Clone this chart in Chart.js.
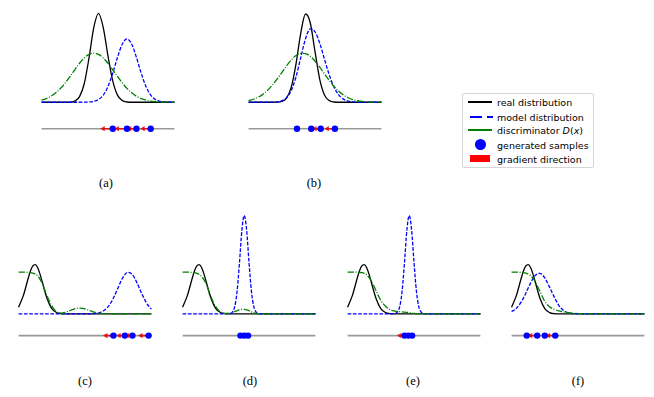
<!DOCTYPE html>
<html>
<head>
<meta charset="utf-8">
<script src="https://cdn.jsdelivr.net/npm/chart.js@4.4.1/dist/chart.umd.min.js"></script>
<style>
  body { margin: 0; background: #fff; width: 654px; height: 397px; overflow: hidden; position: relative; }
  canvas { position: absolute; }
  .lbl { position: absolute; font-family: "Liberation Serif", serif; font-size: 12.5px; color: #000; transform: translate(-50%, -50%); white-space: nowrap; }
  #legend { position: absolute; left: 462px; top: 93px; width: 130px; height: 73px; border: 1px solid #d6d6d6; border-radius: 2px;
            font-family: "DejaVu Sans", sans-serif; font-size: 9.5px; color: #000; }
  #legend .row { position: absolute; left: 34px; transform: translateY(-50%); white-space: nowrap; }
  #legend .mk { position: absolute; }
</style>
</head>
<body>
<div id="legend">
  <div class="mk" style="left:5px;top:7px;width:24px;height:2px;background:#000"></div>
  <div class="row" style="top:8px">real distribution</div>
  <div class="mk" style="left:7px;top:22px;width:12px;height:2px;background:#0000ff"></div>
  <div class="mk" style="left:24px;top:22px;width:6px;height:2px;background:#0000ff"></div>
  <div class="row" style="top:23px">model distribution</div>
  <div class="mk" style="left:5px;top:35px;width:24px;height:2px;background:#008000"></div>
  <div class="row" style="top:36px">discriminator <i>D</i>(<i>x</i>)</div>
  <div class="mk" style="left:12px;top:45px;width:11px;height:11px;border-radius:50%;background:#0000ff"></div>
  <div class="row" style="top:51px">generated samples</div>
  <div class="mk" style="left:7px;top:61px;width:20px;height:7px;background:#ff0000"></div>
  <div class="row" style="top:65px">gradient direction</div>
</div>
<script>
// x grid of the top panels (a), (b)
const gridTop = [-7,-6.5,-6,-5.5,-5,-4.5,-4,-3.5,-3,-2.5,-2,-1.5,-1,-0.5,0,0.5,1,1.5,2,2.5,3,3.5,4,4.5,5,5.5,6,6.5,7];
// x grid of the bottom panels (c)-(f), finer where the peaks are
const gridBottom = [-7,-6.5,-6,-5.75,-5.5,-5.25,-5,-4.75,-4.5,-4,-3.5,-3,-2.5,-2,-1.75,-1.5,-1.25,-1,-0.75,-0.5,-0.25,0,0.25,0.5,0.75,1,1.5,2,2.5,3,3.5,4,4.5,5,5.5,6,6.5,7];

// (a)
const realA  = [0,0,0,0,0,0,0.002,0.013,0.063,0.211,0.50,0.841,1.0,0.841,0.52,0.24,0.08,0.02,0.003,0,0,0,0,0,0,0,0,0,0];
const modelA = [0,0,0,0,0,0,0,0,0,0.001,0.003,0.010,0.031,0.081,0.178,0.327,0.504,0.654,0.713,0.654,0.504,0.327,0.178,0.081,0.031,0.010,0.003,0.001,0];
const discA  = [0.024,0.042,0.068,0.106,0.156,0.218,0.290,0.366,0.439,0.499,0.539,0.553,0.539,0.499,0.439,0.366,0.290,0.218,0.156,0.106,0.068,0.042,0.024,0.013,0.007,0.003,0.002,0.001,0];
const samplesA = [0.5, 2.0, 3.0, 4.5];
const gradFromA = [0.5, 2.0, 3.0, 4.5];
const gradToA = [-0.5, 1.0, 2.3, 3.7];

// (b)
const realB  = [0,0,0,0,0,0,0.001,0.009,0.047,0.170,0.433,0.779,0.994,0.895,0.571,0.258,0.082,0.019,0.003,0,0,0,0,0,0,0,0,0,0];
const modelB = [0,0,0,0,0,0.001,0.004,0.016,0.051,0.134,0.288,0.504,0.715,0.827,0.794,0.665,0.485,0.308,0.171,0.083,0.035,0.013,0.004,0.001,0,0,0,0,0];
const discB  = [0.019,0.034,0.056,0.089,0.134,0.192,0.260,0.335,0.410,0.477,0.526,0.551,0.548,0.518,0.465,0.396,0.320,0.246,0.180,0.124,0.082,0.051,0.030,0.017,0.009,0.005,0.002,0.001,0];
const samplesB = [-1.9, -0.4, 0.6, 2.1];
const gradFromB = [0.6, 2.1];
const gradToB = [0.0, 1.3];

// real distribution, same in (c)-(f)
const realBottom = [0.075,0.204,0.394,0.481,0.538,0.552,0.520,0.449,0.355,0.172,0.059,0.014,0.002,0,0,0,0,0,0,0,0,0,0,0,0,0,0,0,0,0,0,0,0,0,0,0,0,0];

// (c)
const modelC = [0,0,0,0,0,0,0,0,0,0,0,0,0,0,0,0,0,0,0,0,0,0,0,0,0,0.003,0.012,0.037,0.088,0.178,0.296,0.409,0.466,0.440,0.344,0.223,0.119,0.053];
const discC  = [0.468,0.468,0.466,0.464,0.458,0.447,0.428,0.39,0.34,0.20,0.09,0.022,0.008,0.02,0.03,0.04,0.05,0.058,0.063,0.064,0.061,0.055,0.047,0.037,0.027,0.018,0.006,0.001,0,0,0,0,0,0,0,0,0,0];
const samplesC = [3.0, 4.2, 5.0, 6.7];
const gradFromC = [3.0, 4.2, 5.0, 6.7];
const gradToC = [2.2, 3.6, 4.5, 5.9];

// (d)
const modelD = [0,0,0,0,0,0,0,0,0,0,0,0,0,0.003,0.020,0.083,0.259,0.580,0.941,1.106,0.941,0.580,0.259,0.083,0.020,0.003,0,0,0,0,0,0,0,0,0,0,0,0];
const discD  = [0.468,0.468,0.465,0.462,0.455,0.442,0.42,0.385,0.33,0.19,0.08,0.02,0.005,0.008,0.015,0.025,0.036,0.045,0.050,0.050,0.045,0.035,0.022,0.012,0.005,0.002,0,0,0,0,0,0,0,0,0,0,0,0];
const samplesD = [-0.9, -0.5, -0.1];
const gradFromD = [];
const gradToD = [];

// (e)
const modelE = [0,0,0,0,0,0,0,0,0,0,0,0,0,0.003,0.020,0.083,0.259,0.580,0.941,1.106,0.941,0.580,0.259,0.083,0.020,0.003,0,0,0,0,0,0,0,0,0,0,0,0];
const discE  = [0.468,0.468,0.467,0.465,0.462,0.455,0.44,0.41,0.37,0.26,0.15,0.085,0.045,0.03,0.026,0.023,0.021,0.018,0.016,0.014,0.01,0.006,0.003,0.001,0,0,0,0,0,0,0,0,0,0,0,0,0,0];
const samplesE = [-1.0, -0.6, -0.2];
const gradFromE = [-1.0];
const gradToE = [-1.5];

// (f)
const modelF = [0.025,0.062,0.131,0.178,0.231,0.289,0.345,0.395,0.432,0.455,0.403,0.300,0.188,0.090,0.060,0.035,0.020,0.010,0.005,0.002,0.001,0,0,0,0,0,0,0,0,0,0,0,0,0,0,0,0,0];
const discF  = [0.468,0.468,0.466,0.464,0.458,0.447,0.43,0.40,0.36,0.25,0.14,0.08,0.05,0.032,0.026,0.02,0.016,0.012,0.009,0.006,0.004,0.003,0.002,0.001,0,0,0,0,0,0,0,0,0,0,0,0,0,0];
const samplesF = [-5.4, -4.3, -3.5, -2.4];
const gradFromF = [-4.3, -2.4];
const gradToF = [-5.0, -3.1];

const panelLabels = ['(a)', '(b)', '(c)', '(d)', '(e)', '(f)'];

// page layout (pixels)
const PX_X = 10, PX_Y = 94, MARGIN = 8;
const panels = [
  { grid: gridTop, real: realA, model: modelA, disc: discA, samples: samplesA, gFrom: gradFromA, gTo: gradToA, left: 38, base: 104, row: 132, top: 0, height: 145, lx: 106, ly: 183 },
  { grid: gridTop, real: realB, model: modelB, disc: discB, samples: samplesB, gFrom: gradFromB, gTo: gradToB, left: 245, base: 104, row: 132, top: 0, height: 145, lx: 314, ly: 183 },
  { grid: gridBottom, real: realBottom, model: modelC, disc: discC, samples: samplesC, gFrom: gradFromC, gTo: gradToC, left: 15, base: 316, row: 339, top: 200, height: 150, lx: 85, ly: 381 },
  { grid: gridBottom, real: realBottom, model: modelD, disc: discD, samples: samplesD, gFrom: gradFromD, gTo: gradToD, left: 179, base: 316, row: 339, top: 200, height: 150, lx: 250, ly: 381 },
  { grid: gridBottom, real: realBottom, model: modelE, disc: discE, samples: samplesE, gFrom: gradFromE, gTo: gradToE, left: 344, base: 316, row: 339, top: 200, height: 150, lx: 413, ly: 381 },
  { grid: gridBottom, real: realBottom, model: modelF, disc: discF, samples: samplesF, gFrom: gradFromF, gTo: gradToF, left: 508, base: 316, row: 339, top: 200, height: 150, lx: 578, ly: 381 }
];

function curve(grid, ys) {
  return grid.map((x, i) => ({ x: x, y: ys[i] }));
}

panels.forEach(function(p, k) {
  const canvas = document.createElement('canvas');
  const w = 140 + 2 * MARGIN;
  canvas.width = w;
  canvas.height = p.height;
  canvas.style.left = (p.left - MARGIN) + 'px';
  canvas.style.top = p.top + 'px';
  document.body.appendChild(canvas);

  const rowY = -(p.row - p.base) / PX_Y;
  const shafts = [];
  p.gFrom.forEach(function(x0, i) {
    shafts.push({ x: x0, y: rowY }, { x: p.gTo[i], y: rowY }, { x: p.gTo[i], y: null });
  });

  const lineBase = { pointRadius: 0, borderWidth: 1.3, fill: false, clip: false, cubicInterpolationMode: 'monotone' };

  new Chart(canvas.getContext('2d'), {
    type: 'line',
    data: {
      datasets: [
        { data: p.samples.map(x => ({ x: x, y: rowY })), showLine: false, pointRadius: 3.2, pointBackgroundColor: '#0000ff', pointBorderWidth: 0, clip: false },
        { data: p.gTo.map(x => ({ x: x, y: rowY })), showLine: false, pointStyle: 'triangle', rotation: -90, pointRadius: 3, pointBackgroundColor: 'rgba(230,0,0,0.85)', pointBorderWidth: 0, clip: false },
        Object.assign({}, lineBase, { data: shafts, borderColor: 'rgba(230,0,0,0.85)', borderWidth: 1.6, cubicInterpolationMode: 'default' }),
        Object.assign({}, lineBase, { data: [{ x: -7, y: rowY }, { x: 7, y: rowY }], borderColor: '#999999', borderWidth: 1.6, cubicInterpolationMode: 'default' }),
        Object.assign({}, lineBase, { data: curve(p.grid, p.disc), borderColor: '#008000', borderDash: [6.4, 1.6, 1, 1.6] }),
        Object.assign({}, lineBase, { data: curve(p.grid, p.model), borderColor: '#0000ff', borderDash: [3.7, 1.6] }),
        Object.assign({}, lineBase, { data: curve(p.grid, p.real), borderColor: '#000000' })
      ]
    },
    options: {
      responsive: false,
      animation: false,
      devicePixelRatio: 1,
      layout: { padding: 0 },
      plugins: { legend: { display: false }, tooltip: { enabled: false } },
      events: [],
      scales: {
        x: { type: 'linear', display: false, min: -7 - MARGIN / PX_X, max: 7 + MARGIN / PX_X },
        y: { type: 'linear', display: false, min: -(p.top + p.height - p.base) / PX_Y, max: (p.base - p.top) / PX_Y }
      }
    }
  });

  const lbl = document.createElement('div');
  lbl.className = 'lbl';
  lbl.textContent = panelLabels[k];
  lbl.style.left = p.lx + 'px';
  lbl.style.top = p.ly + 'px';
  document.body.appendChild(lbl);
});
</script>
</body>
</html>
